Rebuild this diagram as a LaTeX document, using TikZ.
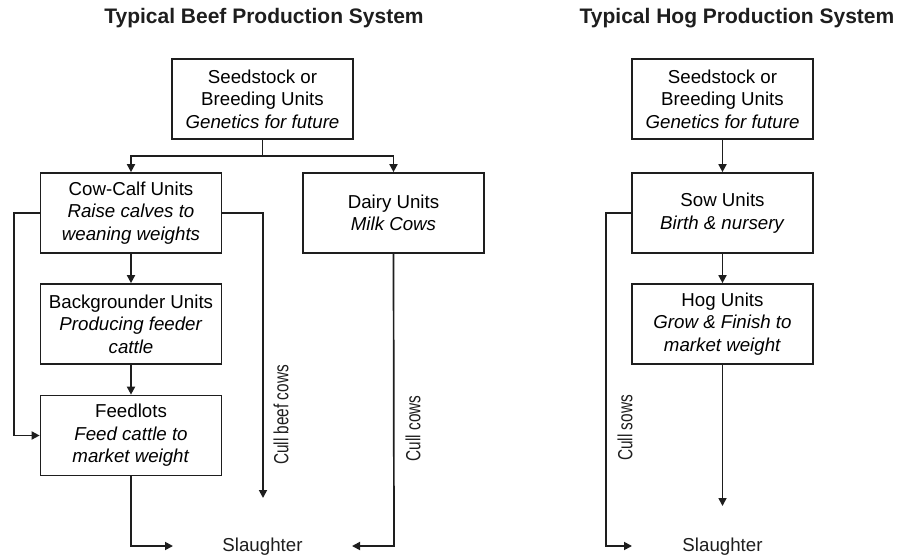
\documentclass[tikz,border=0pt]{standalone}
\usepackage{fontspec}
\setmainfont{Liberation Sans}
\usetikzlibrary{arrows.meta}
\definecolor{ink}{RGB}{30,30,30}
\tikzset{
  unitbox/.style={draw=ink, line width=1.7pt, minimum width=181pt, minimum height=80pt,
    align=center, font=\fontsize{18.7}{22.5}\selectfont, inner sep=2pt},
  heading/.style={font=\fontsize{21}{25}\selectfont\bfseries, text=ink},
  sink/.style={font=\fontsize{18.7}{22.5}\selectfont, text=ink},
  culllabel/.style={rotate=90, font=\fontsize{20.5}{24}\selectfont, text=ink, inner sep=0pt},
  flow/.style={draw=ink, line width=1.7pt, -{Triangle[length=8pt,width=8pt]}},
  plain/.style={draw=ink, line width=1.7pt}
}
\begin{document}
\begin{tikzpicture}[x=1pt,y=-1pt]
\useasboundingbox (0,0) rectangle (906,559);

% ---------- Beef system ----------
\node[heading] (beeftitle) at (264,18) {Typical Beef Production System};

\node[unitbox] (bseed) at (262.5,99) {Seedstock or\\Breeding Units\\\textit{Genetics for future}};
\node[unitbox] (cow) at (131,213) {Cow-Calf Units\\\textit{Raise calves to}\\\textit{weaning weights}};
\node[unitbox] (dairy) at (393.5,213) {Dairy Units\\\textit{Milk Cows}};
\node[unitbox] (back) at (131,324) {Backgrounder Units\\\textit{Producing feeder}\\\textit{cattle}};
\node[unitbox] (feed) at (131,435.5) {Feedlots\\\textit{Feed cattle to}\\\textit{market weight}};
\node[sink] (bslaughter) at (262.5,547) {Slaughter};

\coordinate (bsplit) at (262.5,156);
\coordinate (cowleft) at (14,213);
\coordinate (cowright) at (263,213);
\coordinate (cullend) at (263,498);
\coordinate (feedcorner) at (131,546);
\coordinate (feedend) at (173,546);
\coordinate (dairycorner) at (394,546);
\coordinate (dairyend) at (352,546);

\draw[plain] (bseed.south) -- (bsplit);
\draw[flow] (bsplit) -| (cow.north);
\draw[flow] (bsplit) -| (dairy.north);
\draw[flow] (cow.south) -- (back.north);
\draw[flow] (back.south) -- (feed.north);
\draw[flow] (cow.west) -- (cowleft) |- (feed.west);
\draw[flow] (cow.east) -- (cowright) -- (cullend);
\draw[flow] (feed.south) -- (feedcorner) -- (feedend);
\draw[flow] (dairy.south) -- (dairycorner) -- (dairyend);

\node[culllabel] (cullbeef) at (281,415) {\scalebox{0.75}[1]{Cull beef cows}};
\node[culllabel] (cullcows) at (413,428.5) {\scalebox{0.75}[1]{Cull cows}};

% ---------- Hog system ----------
\node[heading] (hogtitle) at (737,18) {Typical Hog Production System};

\node[unitbox] (hseed) at (722.5,99) {Seedstock or\\Breeding Units\\\textit{Genetics for future}};
\node[unitbox] (sow) at (722.5,213) {Sow Units\\\textit{Birth \& nursery}};
\node[unitbox] (hog) at (722.5,324) {Hog Units\\\textit{Grow \& Finish to}\\\textit{market weight}};
\node[sink] (hslaughter) at (722.5,547) {Slaughter};

\coordinate (sowleft) at (606,213);
\coordinate (sowcorner) at (606,546);
\coordinate (sowend) at (632,546);
\coordinate (hogend) at (722.5,506);

\draw[flow] (hseed.south) -- (sow.north);
\draw[flow] (sow.south) -- (hog.north);
\draw[flow] (hog.south) -- (hogend);
\draw[flow] (sow.west) -- (sowleft) -- (sowcorner) -- (sowend);

\node[culllabel] (cullsows) at (625,428) {\scalebox{0.75}[1]{Cull sows}};
\end{tikzpicture}
\end{document}
